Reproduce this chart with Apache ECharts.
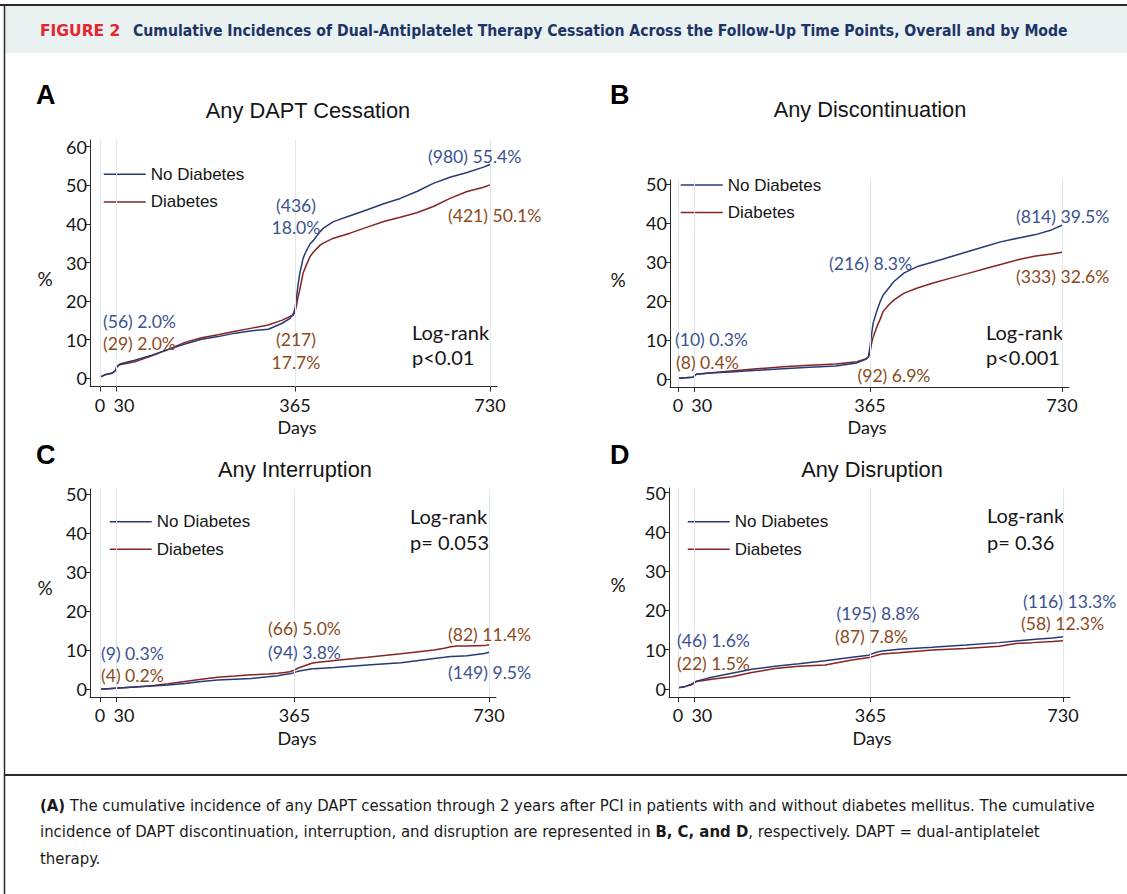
<!DOCTYPE html>
<html><head><meta charset="utf-8">
<script src="https://cdn.jsdelivr.net/npm/echarts@6/dist/echarts.min.js"></script>
<style>html,body{margin:0;padding:0;background:#fff}#c{width:1127px;height:894px}</style>
</head><body><div id="c"></div>
<script>
// ---------------- DATA ----------------
const xTicks = [0, 30, 365, 730];
const yTicksA = [0, 10, 20, 30, 40, 50, 60];
const yTicksBCD = [0, 10, 20, 30, 40, 50];
const seriesNames = ['No Diabetes', 'Diabetes'];

// Panel A: Any DAPT Cessation
const daysA = [0,9,22,29,31,37,65,97,128,159,190,221,253,284,315,340,356,362,365,368,371,374,380,384,393,400,412,418,437,468,499,531,562,593,624,655,687,718,730];
const noDiabA = [0.3,0.9,1.3,2.0,3.0,3.7,4.7,6.0,7.5,8.9,10.1,10.8,11.7,12.3,12.7,14.2,15.5,16.8,18.0,21.2,24.5,27.2,31.0,32.4,34.8,35.8,38.0,38.9,40.6,42.1,43.6,45.2,46.6,48.4,50.5,52.1,53.3,54.7,55.4];
const diabA   = [0.3,0.9,1.3,2.0,2.8,3.5,4.3,5.8,7.5,9.3,10.5,11.3,12.2,13.0,13.8,15.0,16.0,16.4,17.3,19.0,21.2,23.0,27.2,28.6,31.5,32.8,34.5,35.0,36.3,37.6,39.1,40.6,41.7,42.9,44.5,46.6,48.4,49.5,50.1];

// Panel B: Any Discontinuation
const daysB = [0,28,35,60,100,150,200,250,300,340,358,362,365,368,371,378,384,390,400,410,430,455,485,520,550,585,615,650,680,710,730];
const noDiabB = [0.3,0.5,1.3,1.6,1.9,2.3,2.7,3.1,3.4,4.2,5.2,5.8,8.3,11.5,14.4,17.5,19.8,21.6,23.3,25.0,27.3,28.9,30.1,31.5,32.7,34.1,35.3,36.3,37.1,38.3,39.5];
const diabB   = [0.3,0.5,1.3,1.6,2.1,2.7,3.2,3.6,3.9,4.5,5.3,5.8,6.9,9.2,10.8,13.5,15.3,17.4,19.0,20.3,22.1,23.4,24.7,26.0,27.1,28.4,29.5,30.8,31.6,32.1,32.6];

// Panel C: Any Interruption
const daysC = [0,29,65,97,128,159,190,221,253,284,315,334,346,356,363,371,396,402,440,502,565,627,646,658,671,689,721,730];
const noDiabC = [0,0.3,0.6,0.85,1.1,1.5,2.0,2.4,2.6,2.8,3.2,3.5,3.8,4.0,4.2,4.6,5.2,5.3,5.6,6.2,6.8,7.9,8.2,8.4,8.5,8.6,9.2,9.5];
const diabC   = [0,0.3,0.6,0.9,1.4,2.0,2.6,3.1,3.4,3.7,3.9,4.1,4.3,4.5,4.8,5.4,6.6,6.8,7.4,8.2,9.1,10.1,10.5,10.9,11.1,11.1,11.2,11.4];

// Panel D: Any Disruption
const daysD = [0,13,26,35,64,102,140,184,229,279,330,362,365,375,387,419,482,546,609,641,672,710,730];
const noDiabD = [0.3,0.6,1.3,2.0,3.0,4.0,5.0,5.8,6.4,7.2,8.1,8.6,8.8,9.3,9.7,10.1,10.6,11.2,11.8,12.2,12.6,13.0,13.3];
const diabD   = [0.3,0.6,1.1,1.9,2.5,3.1,4.2,5.2,5.8,6.1,7.4,8.0,8.1,8.5,8.9,9.2,9.9,10.3,10.9,11.6,11.8,12.1,12.3];

// ---------------- STYLE / LAYOUT ----------------
const LINE_BLUE = '#283a75', LINE_RED = '#852423';
const TXT_BLUE = '#3b5290', TXT_BROWN = '#8b4a1c';
const NUM_FONT = 'Lato, "Open Sans", sans-serif';
const ARIAL = '"Liberation Sans", Arial, sans-serif';

const panels = [
  {key:'A', title:'Any DAPT Cessation', titleX:308, titleY:110, letterX:36, letterY:95,
   days:daysA, s1:noDiabA, s2:diabA, yTicks:yTicksA, topVal:60,
   g:{axisX:90, x0:100, x730:490, right:497, top:140, y0:378.3, yTopPx:146.7, axisY:386.5},
   legend:{x:103, y:173.3}, pct:{x:45,y:278}, days_:{x:297,y:427},
   lr:{x:412, y1:332, y2:357, p:'p<0.01'}},
  {key:'B', title:'Any Discontinuation', titleX:870, titleY:109, letterX:610, letterY:95,
   days:daysB, s1:noDiabB, s2:diabB, yTicks:yTicksBCD, topVal:50,
   g:{axisX:670, x0:678, x730:1062, right:1069, top:180, y0:379.3, yTopPx:184.3, axisY:387},
   legend:{x:680, y:184}, pct:{x:618,y:279}, days_:{x:867,y:427},
   lr:{x:986, y1:332, y2:357, p:'p<0.001'}},
  {key:'C', title:'Any Interruption', titleX:295, titleY:469, letterX:36, letterY:455,
   days:daysC, s1:noDiabC, s2:diabC, yTicks:yTicksBCD, topVal:50,
   g:{axisX:90, x0:100, x730:489, right:496, top:489, y0:689.3, yTopPx:494.3, axisY:697},
   legend:{x:109, y:520.7}, pct:{x:45,y:587}, days_:{x:297,y:738},
   lr:{x:410, y1:516, y2:542, p:'p= 0.053'}},
  {key:'D', title:'Any Disruption', titleX:872, titleY:469, letterX:610, letterY:455,
   days:daysD, s1:noDiabD, s2:diabD, yTicks:yTicksBCD, topVal:50,
   g:{axisX:669, x0:678, x730:1063, right:1070, top:488, y0:689, yTopPx:492.5, axisY:697},
   legend:{x:687, y:520.7}, pct:{x:618,y:584}, days_:{x:872,y:738},
   lr:{x:987, y1:515, y2:542, p:'p= 0.36'}}
];

// annotation labels: [x, y, text, color, align]
const annotations = [
  [103,321.5,'(56) 2.0%','b','left'],[103,343,'(29) 2.0%','r','left'],
  [296,205,'(436)','b','center'],[296,227.5,'18.0%','b','center'],
  [296,339.5,'(217)','r','center'],[296,362.5,'17.7%','r','center'],
  [428,156,'(980) 55.4%','b','left'],[448,215,'(421) 50.1%','r','left'],
  [675,339.5,'(10) 0.3%','b','left'],[676,362.5,'(8) 0.4%','r','left'],
  [829,263.5,'(216) 8.3%','b','left'],[857.5,375.5,'(92) 6.9%','r','left'],
  [1016,216.5,'(814) 39.5%','b','left'],[1016,276.5,'(333) 32.6%','r','left'],
  [101,653.5,'(9) 0.3%','b','left'],[101,675,'(4) 0.2%','r','left'],
  [268,628.5,'(66) 5.0%','r','left'],[268,652.5,'(94) 3.8%','b','left'],
  [448,634,'(82) 11.4%','r','left'],[448,672.5,'(149) 9.5%','b','left'],
  [677,640.5,'(46) 1.6%','b','left'],[677,663.5,'(22) 1.5%','r','left'],
  [836.5,613.5,'(195) 8.8%','b','left'],[835,636,'(87) 7.8%','r','left'],
  [1023,601,'(116) 13.3%','b','left'],[1021,623,'(58) 12.3%','r','left']
];

function geom(g, topVal){
  const ppd = (g.x730 - g.x0)/730;
  const ppu = (g.y0 - g.yTopPx)/topVal;
  return {
    grid:{left:g.axisX, top:g.top, width:g.right-g.axisX, height:g.axisY-g.top},
    xmin: -(g.x0 - g.axisX)/ppd, xmax: 730 + (g.right - g.x730)/ppd,
    ymin: -(g.axisY - g.y0)/ppu, ymax: topVal + (g.yTopPx - g.top)/ppu
  };
}

const measCtx = document.createElement('canvas').getContext('2d');
function fitSize(text, weight, family, target){
  measCtx.font = weight + ' 100px ' + family;
  return 100 * target / measCtx.measureText(text).width;
}

const grids = [], xAxes = [], yAxes = [], series = [], legends = [], graphics = [];

panels.forEach((p, i) => {
  const G = geom(p.g, p.topVal);
  grids.push(G.grid);
  xAxes.push({
    type:'value', gridIndex:i, min:G.xmin, max:G.xmax,
    axisLine:{show:true, onZero:false, lineStyle:{color:'#2a2a2a', width:1}},
    axisTick:{show:true, customValues:xTicks, length:5, lineStyle:{color:'#2a2a2a'}},
    axisLabel:{customValues:xTicks, margin:9, fontSize:18, fontFamily:NUM_FONT, color:'#151515',
      formatter: v => v === 30 ? '{s|30}' : String(v),
      rich:{s:{padding:[0,0,0,16], fontSize:18, fontFamily:NUM_FONT, color:'#151515'}}},
    splitLine:{show:false}
  });
  yAxes.push({
    type:'value', gridIndex:i, min:G.ymin, max:G.ymax,
    axisLine:{show:true, onZero:false, lineStyle:{color:'#2a2a2a', width:1}},
    axisTick:{show:true, customValues:p.yTicks, length:5, lineStyle:{color:'#2a2a2a'}},
    axisLabel:{customValues:p.yTicks, margin:3, fontSize:18, fontFamily:NUM_FONT, color:'#151515'},
    splitLine:{show:false}
  });
  series.push({
    type:'line', xAxisIndex:i, yAxisIndex:i, data:[], z:1, silent:true,
    markLine:{symbol:'none', silent:true, label:{show:false},
      lineStyle:{color:'#dfe8ec', width:1, type:'solid'},
      data: xTicks.map(v => ({xAxis:v}))}
  });
  series.push({
    name:seriesNames[0], type:'line', xAxisIndex:i, yAxisIndex:i, symbol:'none', z:3,
    lineStyle:{color:LINE_BLUE, width:1.5}, itemStyle:{color:LINE_BLUE},
    data: p.days.map((d, k) => [d, p.s1[k]])
  });
  series.push({
    name:seriesNames[1], type:'line', xAxisIndex:i, yAxisIndex:i, symbol:'none', z:2,
    lineStyle:{color:LINE_RED, width:1.5}, itemStyle:{color:LINE_RED},
    data: p.days.map((d, k) => [d, p.s2[k]])
  });
  legends.push({
    data:seriesNames, orient:'vertical', left:p.legend.x, top:p.legend.y - 7.5,
    itemWidth:42, itemHeight:14, itemGap:10.6, padding:0, selectedMode:false,
    itemStyle:{opacity:0}, lineStyle:{width:1.5},
    textStyle:{fontFamily:ARIAL, fontSize:17, color:'#151515'}
  });
  graphics.push({type:'text', x:p.titleX, y:p.titleY, style:{text:p.title, fontFamily:ARIAL, fontSize:21.8, fill:'#151515', align:'center', verticalAlign:'middle'}});
  graphics.push({type:'text', x:p.letterX, y:p.letterY, style:{text:p.key, fontFamily:ARIAL, fontWeight:'bold', fontSize:27, fill:'#000', align:'left', verticalAlign:'middle'}});
  graphics.push({type:'text', x:p.pct.x, y:p.pct.y, style:{text:'%', fontFamily:NUM_FONT, fontSize:19, fill:'#151515', align:'center', verticalAlign:'middle'}});
  graphics.push({type:'text', x:p.days_.x, y:p.days_.y, style:{text:'Days', fontFamily:NUM_FONT, fontSize:18, fill:'#151515', align:'center', verticalAlign:'middle'}});
  graphics.push({type:'text', x:p.lr.x, y:p.lr.y1, style:{text:'Log-rank', fontFamily:NUM_FONT, fontSize:20, fill:'#151515', align:'left', verticalAlign:'middle'}});
  graphics.push({type:'text', x:p.lr.x, y:p.lr.y2, style:{text:p.lr.p, fontFamily:NUM_FONT, fontSize:20, fill:'#151515', align:'left', verticalAlign:'middle'}});
});

annotations.forEach(a => {
  graphics.push({type:'text', x:a[0], y:a[1], z:10, style:{text:a[2], fontFamily:NUM_FONT, fontSize:17.6,
    fill: a[3] === 'b' ? TXT_BLUE : TXT_BROWN, align:a[4], verticalAlign:'middle'}});
});

// frame, header & caption
const HEAD_FONT = '"Liberation Sans Narrow", "DejaVu Sans Condensed", "Open Sans", sans-serif';
const headTitle = 'Cumulative Incidences of Dual-Antiplatelet Therapy Cessation Across the Follow-Up Time Points, Overall and by Mode';
const headSize = Math.min(17, fitSize(headTitle, 'bold', HEAD_FONT, 935));
const cap1 = '(A) The cumulative incidence of any DAPT cessation through 2 years after PCI in patients with and without diabetes mellitus. The cumulative';
const capSize = Math.min(17, fitSize(cap1, 'normal', HEAD_FONT, 1052));
const capRich = {b:{fontWeight:'bold', fontSize:capSize, fontFamily:HEAD_FONT, fill:'#1a1a1a'},
                 n:{fontSize:capSize, fontFamily:HEAD_FONT, fill:'#1a1a1a'}};

graphics.push(
  {type:'rect', z:0, shape:{x:5, y:6, width:1122, height:47}, style:{fill:'#e9f1f1'}},
  {type:'line', z:5, shape:{x1:0, y1:5, x2:1127, y2:5}, style:{stroke:'#2b2b2b', lineWidth:2}},
  {type:'line', z:5, shape:{x1:4.5, y1:5, x2:4.5, y2:894}, style:{stroke:'#2b2b2b', lineWidth:1.5}},
  {type:'line', z:5, shape:{x1:4, y1:775, x2:1127, y2:775}, style:{stroke:'#2b2b2b', lineWidth:2}},
  {type:'text', x:40, y:31, z:6, style:{text:'FIGURE 2', fontFamily:'"DejaVu Sans", sans-serif', fontWeight:'bold', fontSize:15.5, fill:'#e3262f', align:'left', verticalAlign:'middle'}},
  {type:'text', x:133, y:31, z:6, style:{text:headTitle, fontFamily:HEAD_FONT, fontWeight:'bold', fontSize:headSize, fill:'#1d3466', align:'left', verticalAlign:'middle'}},
  {type:'text', x:40, y:805, z:6, style:{text:'{b|(A)}{n| The cumulative incidence of any DAPT cessation through 2 years after PCI in patients with and without diabetes mellitus. The cumulative}', rich:capRich, align:'left', verticalAlign:'middle'}},
  {type:'text', x:40, y:831, z:6, style:{text:'{n|incidence of DAPT discontinuation, interruption, and disruption are represented in }{b|B, C, and D}{n|, respectively. DAPT = dual-antiplatelet}', rich:capRich, align:'left', verticalAlign:'middle'}},
  {type:'text', x:40, y:858, z:6, style:{text:'{n|therapy.}', rich:capRich, align:'left', verticalAlign:'middle'}}
);

const chart = echarts.init(document.getElementById('c'), null, {renderer:'svg', width:1127, height:894});
chart.setOption({
  backgroundColor:'#ffffff',
  animation:false,
  grid:grids, xAxis:xAxes, yAxis:yAxes, series:series, legend:legends,
  graphic:{elements:graphics}
});
</script></body></html>
